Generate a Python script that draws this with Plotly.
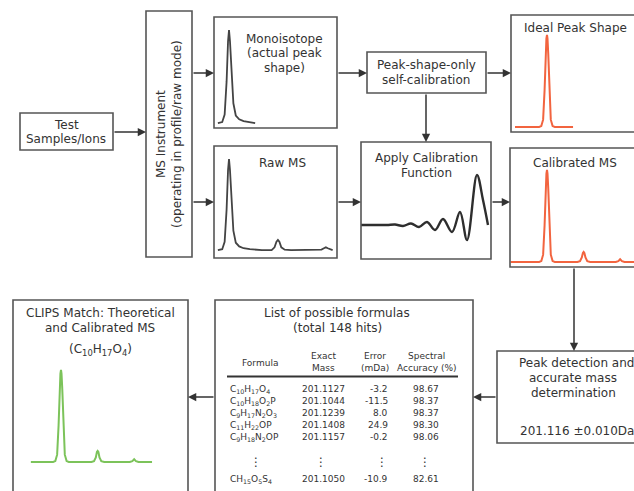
import plotly.graph_objects as go

W, H = 634, 491
FONT = "DejaVu Sans"
INK = "#333333"
BOX = "#555555"
RED = "#f2643f"
GREEN = "#7cc35a"
GRAY = "#444444"

# ---------------- data ----------------
# Monoisotope (actual peak shape), m/z vs relative intensity (%)
mono_mz = [200.89, 200.98, 201.03, 201.07, 201.10, 201.12, 201.14, 201.17, 201.21, 201.26, 201.33, 201.42, 201.55, 201.66]
mono_int = [1, 2, 10, 45, 88, 100, 88, 55, 22, 9, 5, 3, 2, 1]

# Raw MS
raw_mz = [200.89, 200.98, 201.03, 201.07, 201.10, 201.12, 201.14, 201.17, 201.21, 201.26,
          201.33, 201.42, 201.55, 201.80, 202.00, 202.06, 202.10, 202.13, 202.16, 202.20,
          202.27, 202.40, 202.90, 203.03, 203.08, 203.12, 203.16, 203.22, 203.26]
raw_int = [1, 2, 10, 45, 88, 100, 88, 55, 22, 9,
           5, 3, 2, 1, 1, 4, 10, 12, 10, 4,
           1.5, 1, 1, 1.5, 3, 4, 3, 1.5, 1]

# Ideal peak shape
ideal_mz = [200.24, 200.90, 200.96, 201.01, 201.05, 201.08, 201.10, 201.116, 201.13, 201.15, 201.18, 201.22, 201.27, 201.33, 201.83]
ideal_int = [0, 0, 1, 8, 40, 80, 96, 100, 96, 80, 40, 8, 1, 0, 0]

# Calibrated MS
calib_mz = [200.12, 200.60, 200.90, 200.96, 201.01, 201.05, 201.08, 201.10, 201.116, 201.13,
            201.15, 201.18, 201.22, 201.27, 201.33, 201.70, 201.95, 202.02, 202.07, 202.10,
            202.12, 202.14, 202.17, 202.22, 202.30, 202.80, 203.00, 203.07, 203.12, 203.17,
            203.24, 203.50]
calib_int = [0, 0, 0, 1, 8, 40, 80, 96, 100, 96,
             80, 40, 8, 1, 0, 0, 0, 1, 5, 10,
             11, 10, 5, 1, 0, 0, 0, 1, 3, 1,
             0, 0]

# CLIPS match (theoretical)
clips_mz = [200.29, 200.60, 200.90, 200.96, 201.01, 201.05, 201.08, 201.10, 201.116, 201.13,
            201.15, 201.18, 201.22, 201.27, 201.33, 201.70, 201.95, 202.02, 202.07, 202.10,
            202.12, 202.14, 202.17, 202.22, 202.30, 202.80, 203.00, 203.07, 203.12, 203.17,
            203.24, 203.61]
clips_int = [0, 0, 0, 1, 8, 40, 80, 96, 100, 96,
             80, 40, 8, 1, 0, 0, 0, 1, 5, 11,
             12, 11, 5, 1, 0, 0, 0, 1, 3, 1,
             0, 0]

# Calibration function (relative position, amplitude)
calfn_x = [0, 14, 26, 34, 42, 50, 58, 66, 74, 82, 91, 99, 106, 116, 122, 127]
calfn_y = [0, 0, 0, 0.5, -1, 1.5, -2, 3, -5, 6, -7, 13, -15, 50, 25, 0]

# Table of candidate formulas
tbl_formula = ["C<sub>10</sub>H<sub>17</sub>O<sub>4</sub>",
               "C<sub>10</sub>H<sub>18</sub>O<sub>2</sub>P",
               "C<sub>9</sub>H<sub>17</sub>N<sub>2</sub>O<sub>3</sub>",
               "C<sub>11</sub>H<sub>22</sub>OP",
               "C<sub>9</sub>H<sub>18</sub>N<sub>2</sub>OP",
               "CH<sub>15</sub>O<sub>5</sub>S<sub>4</sub>"]
tbl_mass = ["201.1127", "201.1044", "201.1239", "201.1408", "201.1157", "201.1050"]
tbl_error = ["-3.2", "-11.5", "8.0", "24.9", "-0.2", "-10.9"]
tbl_acc = ["98.67", "98.37", "98.37", "98.30", "98.06", "82.61"]

# ---------------- figure ----------------
fig = go.Figure()


def add_inset(n, box, xr, yr, xs, ys, color, width=2, shape="linear"):
    x0, y0, x1, y1 = box
    fig.update_layout(**{
        f"xaxis{n}": dict(domain=[x0 / W, x1 / W], range=xr, visible=False,
                          fixedrange=True, anchor=f"y{n}"),
        f"yaxis{n}": dict(domain=[1 - y1 / H, 1 - y0 / H], range=yr, visible=False,
                          fixedrange=True, anchor=f"x{n}"),
    })
    fig.add_trace(go.Scatter(x=xs, y=ys, mode="lines",
                             line=dict(color=color, width=width, shape=shape),
                             xaxis=f"x{n}", yaxis=f"y{n}",
                             hoverinfo="skip", showlegend=False))


add_inset(2, (214, 17, 337, 128), [200.81, 203.35], [-4.3, 113.8], mono_mz, mono_int, GRAY, 1.8)
add_inset(3, (214, 146, 337, 258), [200.81, 203.35], [-7.6, 114.1], raw_mz, raw_int, GRAY, 1.8)
add_inset(4, (511, 15, 634, 132), [200.130, 203.50], [-5.4, 121.7], ideal_mz, ideal_int, RED, 2)
add_inset(5, (510, 148, 634, 267), [200.102, 203.50], [-5.4, 123.9], calib_mz, calib_int, RED, 2)
add_inset(6, (13, 300, 188, 491), [199.801, 204.595], [-31.5, 176.1], clips_mz, clips_int, GREEN, 2)
add_inset(7, (361, 142, 491, 259), [0, 130], [-34, 83], calfn_x, calfn_y, "#2e2e2e", 2.4, "spline")


def box(x0, y0, x1, y1):
    fig.add_shape(type="rect", x0=x0, y0=y0, x1=x1, y1=y1, xref="x", yref="y",
                  line=dict(color=BOX, width=1.6))


box(20, 113, 113, 150)      # Test samples
box(146, 11, 192, 257)      # MS instrument
box(214, 17, 337, 128)      # Monoisotope
box(214, 146, 337, 258)     # Raw MS
box(367, 52, 486, 93)       # Peak-shape-only
box(361, 142, 491, 259)     # Apply calibration
box(511, 15, 650, 132)      # Ideal peak
box(510, 148, 650, 267)     # Calibrated MS
box(497, 351, 650, 443)     # Peak detection
box(215, 300, 473, 500)     # Table
box(13, 300, 188, 500)      # CLIPS match

# table header rule
fig.add_shape(type="line", x0=227, y0=376.5, x1=458, y1=376.5, xref="x", yref="y",
              line=dict(color=INK, width=2))


def arrow(x0, y0, x1, y1):
    fig.add_annotation(x=x1, y=y1, ax=x0, ay=y0, xref="x", yref="y", axref="x", ayref="y",
                       text="", showarrow=True, arrowhead=2, arrowsize=1.1, arrowwidth=1.5,
                       arrowcolor=INK, standoff=0, startstandoff=0)


arrow(113, 132, 146, 132)
arrow(192, 73, 214, 73)
arrow(192, 202, 214, 202)
arrow(337, 73, 367, 73)
arrow(486, 73, 511, 73)
arrow(426, 93, 426, 142)
arrow(337, 202, 361, 202)
arrow(491, 202, 510, 202)
arrow(574, 267, 574, 351)
arrow(497, 397, 473, 397)
arrow(215, 397, 188, 397)


def txt(x, y, s, size=12, xanchor="center", angle=0):
    fig.add_annotation(x=x, y=y, xref="x", yref="y", text=s, showarrow=False,
                       xanchor=xanchor, yanchor="middle", textangle=angle,
                       font=dict(family=FONT, size=size, color=INK))


txt(66, 125, "Test")
txt(66, 139, "Samples/Ions")
txt(169, 134, "MS Instrument<br>(operating in profile/raw mode)", angle=-90)
txt(284, 39, "Monoisotope")
txt(284, 53, "(actual peak")
txt(284, 68, "shape)")
txt(282, 163, "Raw MS")
txt(426, 65, "Peak-shape-only")
txt(426, 80, "self-calibration")
txt(426, 158, "Apply Calibration")
txt(426, 173, "Function")
txt(575, 28, "Ideal Peak Shape")
txt(575, 163, "Calibrated MS")
txt(576, 363, "Peak detection and")
txt(573, 378, "accurate mass")
txt(573, 393, "determination")
txt(577, 431, "201.116 ±0.010Da")
txt(100, 313, "CLIPS Match: Theoretical")
txt(100, 328, "and Calibrated MS")
txt(100, 350, "(C<sub>10</sub>H<sub>17</sub>O<sub>4</sub>)")
txt(337, 313, "List of possible formulas")
txt(337, 328, "(total 148 hits)")

# table header
TS = 9
txt(260, 363, "Formula", TS)
txt(323, 356, "Exact", TS)
txt(323, 368, "Mass", TS)
txt(375, 356, "Error", TS)
txt(375, 368, "(mDa)", TS)
txt(426, 356, "Spectral", TS)
txt(427, 368, "Accuracy (%)", TS)

row_y = [389, 401, 413, 425, 437, 479]
for i, y in enumerate(row_y):
    txt(228, y, tbl_formula[i], TS, "left")
    txt(323, y, tbl_mass[i], TS)
    txt(390, y, tbl_error[i], TS, "right")
    txt(426, y, tbl_acc[i], TS)
for xd in (256, 321, 382, 425):
    txt(xd, 462, "⋮", 12)

fig.update_layout(
    width=W, height=H,
    margin=dict(l=0, r=0, t=0, b=0),
    paper_bgcolor="white", plot_bgcolor="white",
    showlegend=False,
    hovermode=False,
    xaxis=dict(domain=[0, 1], range=[0, W], visible=False, fixedrange=True),
    yaxis=dict(domain=[0, 1], range=[H, 0], visible=False, fixedrange=True),
)

fig.write_html("out.html",
               config={"displayModeBar": False, "staticPlot": True},
               post_script="document.body.style.margin='0';document.body.style.overflow='hidden';")
